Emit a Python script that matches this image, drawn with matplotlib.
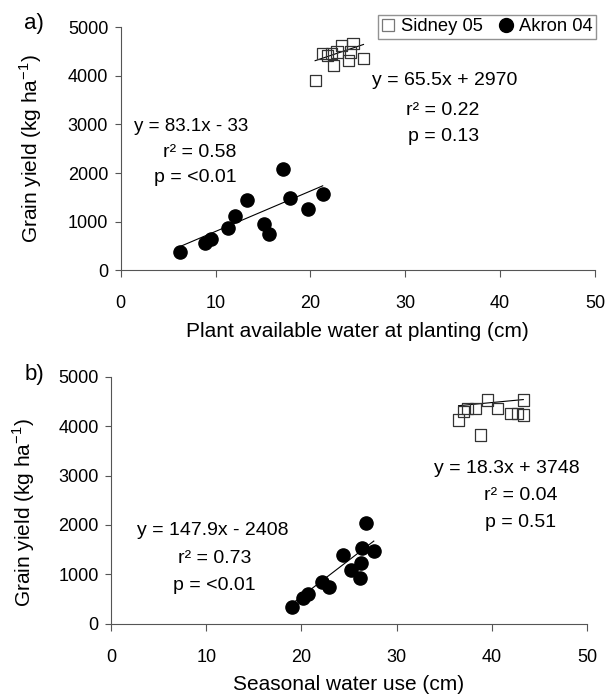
import matplotlib
matplotlib.use('Agg')
import matplotlib.pyplot as plt
from matplotlib.lines import Line2D

plt.rcParams['font.family'] = ['Liberation Sans', 'DejaVu Sans']
plt.rcParams['mathtext.fontset'] = 'custom'
plt.rcParams['mathtext.rm'] = 'Liberation Sans'

# a) plant available water at planting (cm) vs grain yield (kg/ha)
akron_paw = [6.3, 8.9, 9.5, 11.3, 12.1, 13.3, 15.1, 15.6, 17.1, 17.8, 19.8, 21.3]
akron_yield_a = [374, 558, 640, 866, 1119, 1448, 955, 749, 2078, 1483, 1257, 1565]
sidney_paw = [20.5, 21.3, 21.8, 22.2, 22.8, 23.3, 24.5, 22.4, 24.0, 25.6, 24.2]
sidney_yield_a = [3912, 4460, 4425, 4460, 4493, 4630, 4665, 4220, 4322, 4357, 4493]

# b) seasonal water use (cm) vs grain yield
akron_swu = [19.0, 20.2, 20.7, 22.2, 22.9, 24.4, 25.2, 26.2, 26.3, 26.4, 26.8, 27.6]
akron_yield_b = [340, 530, 600, 840, 740, 1390, 1080, 920, 1220, 1530, 2040, 1470]
sidney_swu = [36.5, 37.0, 37.4, 38.3, 39.5, 40.6, 38.8, 42.0, 42.7, 43.3, 43.3]
sidney_yield_b = [4128, 4296, 4365, 4365, 4533, 4365, 3824, 4264, 4264, 4533, 4229]

# regression fits (slope, intercept)
fit_akron_a = (83.1, -33)
fit_sidney_a = (65.5, 2970)
fit_akron_b = (147.9, -2408)
fit_sidney_b = (18.3, 3748)

fig = plt.figure(figsize=(6.08, 7.0), dpi=100)
ax1 = fig.add_axes([0.1985, 0.614, 0.78, 0.347])
ax2 = fig.add_axes([0.1826, 0.109, 0.783, 0.3526])


def fit_line(ax, xs, fit):
    lo, hi = min(xs), max(xs)
    ax.plot([lo, hi], [fit[0] * lo + fit[1], fit[0] * hi + fit[1]],
            color='black', lw=0.8, zorder=2)


def style(ax, xlabel):
    ax.set_xlim(0, 50)
    ax.set_ylim(0, 5000)
    ax.set_xticks([0, 10, 20, 30, 40, 50])
    ax.set_yticks([0, 1000, 2000, 3000, 4000, 5000])
    for s in ['top', 'right']:
        ax.spines[s].set_visible(False)
    for s in ['left', 'bottom']:
        ax.spines[s].set_color('#555555')
        ax.spines[s].set_linewidth(0.8)
    ax.tick_params(axis='x', direction='out', length=5, width=0.8,
                   color='#555555', pad=13, labelsize=13)
    ax.tick_params(axis='y', direction='out', length=4, width=0.8,
                   color='#555555', pad=5, labelsize=13)
    ax.set_xlabel(xlabel, fontsize=15, labelpad=7)
    ax.set_ylabel(r'Grain yield (kg ha$^{\mathregular{-1}}$)', fontsize=15)


# panel a
ax1.scatter(akron_paw, akron_yield_a, s=90, color='black', zorder=3)
ax1.scatter(sidney_paw, sidney_yield_a, s=65, marker='s', facecolor='none',
            edgecolor='#333333', linewidth=0.9, zorder=3)
fit_line(ax1, akron_paw, fit_akron_a)
fit_line(ax1, sidney_paw, fit_sidney_a)
style(ax1, 'Plant available water at planting (cm)')
ax1.yaxis.set_label_coords(-0.162, 0.5)

ax1.text(1.4, 2950, 'y = 83.1x - 33', ha='left', va='center', fontsize=13.5)
ax1.text(12.2, 2430, 'r² = 0.58', ha='right', va='center', fontsize=14)
ax1.text(12.2, 1900, 'p = <0.01', ha='right', va='center', fontsize=14)
ax1.text(34.2, 3912, 'y = 65.5x + 2970', ha='center', va='center', fontsize=14)
ax1.text(33.9, 3296, 'r² = 0.22', ha='center', va='center', fontsize=14)
ax1.text(34.0, 2762, 'p = 0.13', ha='center', va='center', fontsize=14)

# panel b
ax2.scatter(akron_swu, akron_yield_b, s=90, color='black', zorder=3)
ax2.scatter(sidney_swu, sidney_yield_b, s=65, marker='s', facecolor='none',
            edgecolor='#333333', linewidth=0.9, zorder=3)
fit_line(ax2, akron_swu, fit_akron_b)
fit_line(ax2, sidney_swu, fit_sidney_b)
style(ax2, 'Seasonal water use (cm)')
ax2.yaxis.set_label_coords(-0.155, 0.45)

ax2.text(10.7, 1880, 'y = 147.9x - 2408', ha='center', va='center', fontsize=14)
ax2.text(10.9, 1320, 'r² = 0.73', ha='center', va='center', fontsize=14)
ax2.text(10.9, 780, 'p = <0.01', ha='center', va='center', fontsize=14)
ax2.text(41.6, 3150, 'y = 18.3x + 3748', ha='center', va='center', fontsize=14)
ax2.text(43.0, 2600, 'r² = 0.04', ha='center', va='center', fontsize=14)
ax2.text(43.0, 2050, 'p = 0.51', ha='center', va='center', fontsize=14)

fig.text(0.04, 0.967, 'a)', fontsize=16, va='center')
fig.text(0.04, 0.465, 'b)', fontsize=16, va='center')

handles = [
    Line2D([], [], marker='s', ls='none', markersize=9, markerfacecolor='none',
           markeredgecolor='#777777', markeredgewidth=0.9),
    Line2D([], [], marker='o', ls='none', markersize=10, color='black'),
]
fig.legend(handles, ['Sidney 05', 'Akron 04'], loc='upper left',
           bbox_to_anchor=(0.622, 0.979), ncol=2, fontsize=13.2,
           frameon=True, fancybox=False, edgecolor='#777777',
           handlelength=0.7, handletextpad=0.35, columnspacing=0.9,
           borderpad=0.2, borderaxespad=0)

fig.savefig('out.png', dpi=100)
